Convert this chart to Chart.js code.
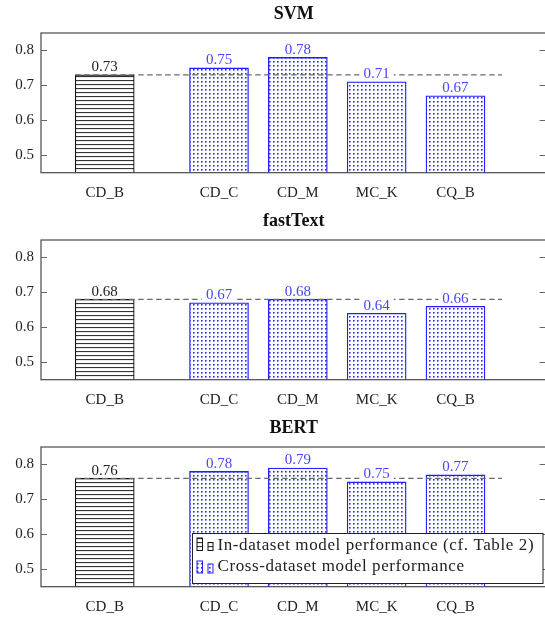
<!DOCTYPE html>
<html>
<head>
<meta charset="utf-8">
<script src="https://cdn.jsdelivr.net/npm/chart.js@4.4.1/dist/chart.umd.min.js"></script>
<style>
  body { margin: 0; background: #fff; overflow: hidden; }
  #wrap { position: relative; width: 545px; height: 617px; overflow: hidden; }
  #wrap canvas { position: absolute; left: 0; }
</style>
</head>
<body>
<div id="wrap">
  <canvas id="c0" width="548" height="207" style="top:0px"></canvas>
  <canvas id="c1" width="548" height="207" style="top:207px"></canvas>
  <canvas id="c2" width="548" height="207" style="top:414px"></canvas>
</div>
<script>
// data
const models = ["SVM", "fastText", "BERT"];
const labels = ["CD_B", "CD_C", "CD_M", "MC_K", "CQ_B"];
const xPos = [0, 1.45, 2.45, 3.45, 4.45];
const inDataset = [0.73, 0.68, 0.76];          // CD_B for each model
const crossSVM = [0.75, 0.78, 0.71, 0.67];
const crossFastText = [0.67, 0.68, 0.64, 0.66];
const crossBERT = [0.78, 0.79, 0.75, 0.77];
const crossAll = [crossSVM, crossFastText, crossBERT];
const yTicks = [0.5, 0.6, 0.7, 0.8];
const dashX = [-0.375, 5.04];
const legendText = ["In-dataset model performance (cf. Table 2)", "Cross-dataset model performance"];

const FONT = "'Liberation Serif', 'Times New Roman', serif";
const BLUE = "#1f1fff";
const LABEL_BLUE = "#4646ff";
const TEXT = "#222";
const FRAME = "#4a4a4a";

// fill patterns
function linesPattern() {
    const c = document.createElement("canvas");
    c.width = 4; c.height = 4;
    const g = c.getContext("2d");
    g.fillStyle = "#fff";
    g.fillRect(0, 0, 4, 4);
    g.fillStyle = "#333";
    g.fillRect(0, 0, 4, 1.1);
    return g.createPattern(c, "repeat");
}
function dotsPattern() {
    const c = document.createElement("canvas");
    c.width = 4; c.height = 4;
    const g = c.getContext("2d");
    g.fillStyle = "#fff";
    g.fillRect(0, 0, 4, 4);
    g.fillStyle = "#2a2aff";
    g.fillRect(1, 1, 1.6, 1.6);
    return g.createPattern(c, "repeat");
}
const hatch = linesPattern();
const dots = dotsPattern();

// frame, inner ticks, value labels and (last chart) legend
const decor = {
    id: "decor",
    afterDatasetsDraw(chart, args, opts) {
        const ctx = chart.ctx;
        const a = chart.chartArea;
        const ys = chart.scales.y;
        ctx.save();

        // value labels with white background
        ctx.font = "15px " + FONT;
        ctx.textAlign = "center";
        ctx.textBaseline = "alphabetic";
        chart.data.datasets.forEach((ds, di) => {
            if (ds.type === "line") return;
            const meta = chart.getDatasetMeta(di);
            meta.data.forEach((bar, i) => {
                const v = ds.data[i].y;
                const txt = v.toFixed(2);
                const w = ctx.measureText(txt).width;
                const base = bar.y - 3.5;
                ctx.fillStyle = "#fff";
                ctx.fillRect(bar.x - w / 2 - 4, base - 13, w + 8, 15.5);
                ctx.fillStyle = ds.labelColor;
                ctx.fillText(txt, bar.x, base);
            });
        });

        // frame
        ctx.strokeStyle = FRAME;
        ctx.lineWidth = 1.2;
        ctx.strokeRect(a.left, a.top, a.right - a.left, a.bottom - a.top);

        // inward tick marks on both sides
        ctx.lineWidth = 1;
        ctx.strokeStyle = "#666";
        yTicks.forEach(t => {
            const py = Math.round(ys.getPixelForValue(t)) + 0.5;
            ctx.beginPath();
            ctx.moveTo(a.left, py); ctx.lineTo(a.left + 6, py);
            ctx.moveTo(a.right, py); ctx.lineTo(a.right - 7, py);
            ctx.stroke();
        });

        if (opts.legend) {
            const lx = 192.5, ly = 119.5, lw = 350.5, lh = 50;
            ctx.fillStyle = "#fff";
            ctx.fillRect(lx, ly, lw, lh);
            ctx.strokeStyle = "#222";
            ctx.lineWidth = 1;
            ctx.strokeRect(lx, ly, lw, lh);
            // legend images: two small bars of unequal height, like pgfplots ybar legend
            const rows = [
                { text: legendText[0], fill: hatch, stroke: "#111", y: ly + 12,
                  r1: [4.5, 12.5], r2: [9, 8] },
                { text: legendText[1], fill: dots, stroke: BLUE, y: ly + 33.5,
                  r1: [27.5, 12], r2: [30.5, 9] }
            ];
            rows.forEach(r => {
                ctx.fillStyle = r.fill;
                ctx.strokeStyle = r.stroke;
                ctx.fillRect(lx + 4.5, ly + r.r1[0], 5.5, r.r1[1]);
                ctx.strokeRect(lx + 4.5, ly + r.r1[0], 5.5, r.r1[1]);
                ctx.fillRect(lx + 15.5, ly + r.r2[0], 5, r.r2[1]);
                ctx.strokeRect(lx + 15.5, ly + r.r2[0], 5, r.r2[1]);
                ctx.fillStyle = TEXT;
                ctx.font = "17px " + FONT;
                ctx.letterSpacing = "0.6px";
                ctx.textAlign = "left";
                ctx.textBaseline = "middle";
                ctx.fillText(r.text, lx + 25, r.y);
                ctx.letterSpacing = "0px";
            });
        }
        ctx.restore();
    }
};

function makeChart(k) {
    const barsIn = [{ x: xPos[0], y: inDataset[k] }];
    const barsCross = crossAll[k].map((v, i) => ({ x: xPos[i + 1], y: v }));
    const dash = dashX.map(x => ({ x: x, y: inDataset[k] }));

    new Chart(document.getElementById("c" + k), {
        type: "bar",
        data: {
            datasets: [
                {
                    type: "line",
                    data: dash,
                    borderColor: "#6a6a6a",
                    borderWidth: 1.3,
                    borderDash: [5.5, 3.5],
                    pointRadius: 0,
                    order: 0
                },
                {
                    data: barsIn,
                    backgroundColor: hatch,
                    borderColor: "#111",
                    borderWidth: 1.2,
                    borderSkipped: false,
                    barThickness: 59,
                    labelColor: TEXT,
                    order: 1
                },
                {
                    data: barsCross,
                    backgroundColor: dots,
                    borderColor: BLUE,
                    borderWidth: 1.3,
                    borderSkipped: false,
                    barThickness: 59,
                    labelColor: LABEL_BLUE,
                    order: 1
                }
            ]
        },
        options: {
            responsive: false,
            animation: false,
            events: [],
            grouped: false,
            layout: { padding: { left: 0, right: 1.5, top: 0, bottom: 0 } },
            plugins: {
                legend: { display: false },
                tooltip: { enabled: false },
                title: {
                    display: true,
                    text: models[k],
                    fullSize: false,
                    color: "#111",
                    font: { family: FONT, size: 18, weight: "bold", lineHeight: 1.2 },
                    padding: { top: 3.5, bottom: 7.9 }
                },
                decor: { legend: k === 2 }
            },
            scales: {
                x: {
                    type: "linear",
                    offset: false,
                    min: -0.8086,
                    max: 5.605,
                    grid: { display: false, drawTicks: false },
                    border: { display: false },
                    afterBuildTicks: s => { s.ticks = xPos.map(v => ({ value: v })); },
                    afterFit: s => { s.height = 34.3; },
                    ticks: {
                        autoSkip: false,
                        maxRotation: 0,
                        padding: 11,
                        color: TEXT,
                        font: { family: FONT, size: 15 },
                        callback: (v, i) => labels[i]
                    }
                },
                y: {
                    min: 0.45,
                    max: 0.85,
                    grid: { display: false, drawTicks: false },
                    border: { display: false },
                    afterBuildTicks: s => { s.ticks = yTicks.map(v => ({ value: v })); },
                    afterFit: s => { s.width = 41; },
                    ticks: {
                        padding: 7,
                        color: TEXT,
                        font: { family: FONT, size: 15 },
                        callback: v => v.toFixed(1)
                    }
                }
            }
        },
        plugins: [decor]
    });
}

models.forEach((m, k) => makeChart(k));
</script>
</body>
</html>
